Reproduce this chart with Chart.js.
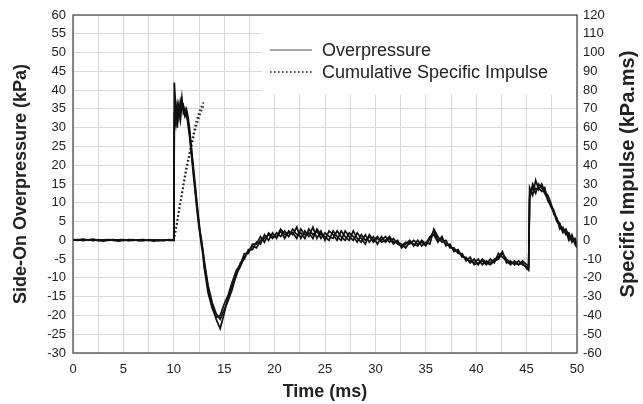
<!DOCTYPE html>
<html lang="en">
<head>
<meta charset="UTF-8">
<title>Side-On Overpressure and Specific Impulse</title>
<script src="https://cdn.jsdelivr.net/npm/chart.js"></script>
<style>
  body { margin: 0; background: #fff; }
</style>
</head>
<body>
<canvas id="blastChart" width="643" height="404"></canvas>
<script>
// time base (ms) shared by the three overpressure records
const time = [
  0, 0.5, 1, 1.5, 2, 2.5, 3, 3.5, 4, 4.5, 5, 5.5, 6, 6.5, 7, 7.5, 8, 8.5, 9, 9.5, 10,
  10.05, 10.2, 10.35, 10.5, 10.65, 10.8, 10.95, 11.1, 11.25, 11.4, 11.55, 11.7, 11.85, 12, 12.15, 12.3, 12.45, 12.6, 12.75, 12.9,
  13, 13.4, 13.8, 14.2, 14.6, 15, 15.4, 15.8, 16.2, 16.6,
  17, 17.4, 17.8, 18.2, 18.6, 19, 19.4, 19.8, 20.2, 20.6,
  21, 21.4, 21.8, 22.2, 22.6, 23, 23.4, 23.8, 24.2, 24.6,
  25, 25.4, 25.8, 26.2, 26.6, 27, 27.4, 27.8, 28.2, 28.6,
  29, 29.4, 29.8, 30.2, 30.6, 31, 31.4, 31.8, 32.2, 32.6,
  33, 33.4, 33.8, 34.2, 34.6, 35, 35.4, 35.8, 36.2, 36.6,
  37, 37.4, 37.8, 38.2, 38.6, 39, 39.4, 39.8, 40.2, 40.6,
  41, 41.4, 41.8, 42.2, 42.6, 43, 43.4, 43.8, 44.2, 44.6,
  45, 45.2,
  45.3, 45.6, 45.9, 46.2, 46.5, 46.8, 47.1, 47.4, 47.7, 48, 48.3, 48.6, 48.9, 49.2, 49.5, 49.8, 50
];

// side-on overpressure (kPa), three tests
const pressureA = [
  0.2, 0.1, 0.3, 0, 0.2, -0.1, 0.1, 0.2, 0, -0.2, 0.1, 0, 0.2, -0.1, 0, 0.1, -0.2, 0, 0.1, 0, 0,
  34, 31, 36, 33, 37, 35, 36, 34, 35, 33, 30, 26, 22, 18, 14, 10, 6, 2.5, 0, -3,
  -5, -12, -16.5, -19.5, -21, -18.5, -16, -13, -9, -7,
  -4.5, -3, -1.5, -2, 0, 0.5, 1.5, 0.5, 2, 1,
  2.5, 1, 3, 1.5, 2, 0.5, 3, 1.5, 2.5, 0.5,
  2, 1, 0.5, 2.5, 1, 0, 2, 1, -0.5, 1.5,
  0, 1, -0.5, 0.5, 0, 1, -0.5, 0.5, -1, -1.5,
  -0.5, -1, 0, -1, -0.5, -1.5, 0.5, 2.5, 0, 0.5,
  -1, -1.5, -2.5, -3, -4, -5, -5.5, -6, -5, -6.5,
  -5.5, -6, -5, -4.5, -3, -6, -5.5, -6.5, -5.5, -6.5,
  -7, -7.5,
  12, 14, 12.5, 15, 14, 12.5, 11, 9, 7.5, 5, 4, 2.5, 3, 1, 0.5, -0.5, -1.5
];
const pressureB = [
  0, 0.2, -0.1, 0.1, 0.3, 0, -0.2, 0.1, 0.2, 0, -0.1, 0.2, 0.1, 0, -0.1, 0.2, 0, 0.1, -0.1, 0.1, 0,
  42, 35, 30, 36, 34, 38, 34, 35, 33, 32, 29, 25, 21, 17, 13, 9, 5.5, 2, -0.5, -3,
  -6, -13, -17.5, -21, -23.5, -19.5, -15, -12, -9.5, -6,
  -5, -2.5, -2.5, -0.5, -1, 1.5, 0, 2, 0.5, 2.5,
  0.5, 2.5, 1.5, 3.5, 0.5, 2.5, 1, 3.5, 0.5, 2.5,
  0, 2.5, 1.5, 0, 2.5, 1, 0, 2.5, 0.5, -0.5,
  1.5, -0.5, 1, -1, 1, -0.5, 0.5, -1, 0, -2,
  -1, 0, -1.5, 0, -1.5, -0.5, -1, 3, 1, -0.5,
  0, -2, -2, -3.5, -3.5, -5.5, -4.5, -6.5, -6, -5.5,
  -6.5, -5, -6, -3.5, -4.5, -5.5, -6.5, -5.5, -6.5, -6,
  -7.5, -8,
  14, 12, 16, 13.5, 15, 13, 12, 10, 7, 6, 3, 3.5, 1.5, 2, -0.5, 0.5, -1
];
const pressureC = [
  0.1, 0, 0.2, 0.1, -0.1, 0.2, 0, 0, 0.1, 0.1, 0.2, -0.1, 0, 0.1, 0.2, -0.1, 0.1, -0.1, 0, 0.2, 0.1,
  30, 36, 33, 35, 32, 36, 35, 33, 34, 31, 28, 24, 20, 16, 12, 8, 4.5, 1.5, -1.5, -4,
  -7, -14, -18, -20.5, -20, -17, -14.5, -11, -8, -6.5,
  -3.5, -3.5, -1, -1, 1, -0.5, 2, 1, 1, 3,
  1.5, 2, 2, 0.5, 3, 1.5, 2, 0.5, 3, 1.5,
  1, 0, 2.5, 1, 0, 2.5, 1, 0, 2, 0.5,
  -1, 1.5, 0, 1, -0.5, 0, 1, -0.5, -0.5, -1,
  -2, -0.5, -1, -1.5, 0, -1, 1, 1.5, -0.5, 1,
  -1.5, -1, -3, -2.5, -4.5, -4.5, -6, -5, -6.5, -5,
  -6, -6.5, -5.5, -5, -3.5, -5, -6, -6, -6.5, -5.5,
  -6.5, -7,
  11, 15, 13.5, 14, 13, 14, 10.5, 9.5, 8, 5.5, 4.5, 2, 2.5, 0, 1.5, -1, -2
];

// cumulative specific impulse (kPa.ms), right axis
const impulseTime = [10, 10.2, 10.4, 10.6, 10.8, 11, 11.2, 11.4, 11.6, 11.8, 12, 12.2, 12.4, 12.6, 12.8, 13];
const impulseA = [0, 6, 13, 19.5, 25, 32, 38, 43, 48, 53, 58, 63, 66.5, 69.5, 72, 74];
const impulseB = [0, 5, 11.5, 18, 24, 30, 36, 41, 46, 51, 56, 60, 64, 67, 70, 72];

const toPoints = (xs, ys) => xs.map((x, i) => ({ x: x, y: ys[i] }));

Chart.defaults.font.family = '"Liberation Sans", Arial, sans-serif';
Chart.defaults.color = '#222';

// white legend box inside the plot, frame round the plot, right-hand title
const plotExtras = {
  id: 'plotExtras',
  beforeDatasetsDraw(chart) {
    const { ctx, chartArea: a } = chart;
    ctx.save();
    ctx.fillStyle = '#fff';
    ctx.fillRect(262, a.top + 1, a.right - 263, 78);
    ctx.restore();
  },
  afterDatasetsDraw(chart) {
    const { ctx, chartArea: a } = chart;
    ctx.save();
    // frame
    ctx.strokeStyle = '#4d4d4d';
    ctx.lineWidth = 1.3;
    ctx.strokeRect(a.left, a.top, a.right - a.left, a.bottom - a.top);

    // legend
    ctx.font = '18px "Liberation Sans", Arial, sans-serif';
    ctx.textBaseline = 'middle';
    ctx.fillStyle = '#222';
    const seen = new Set();
    let row = 0;
    chart.data.datasets.forEach(ds => {
      if (seen.has(ds.label)) return;
      seen.add(ds.label);
      const y = 50 + row * 22;
      ctx.beginPath();
      ctx.setLineDash(ds.borderDash || []);
      ctx.strokeStyle = ds.borderDash ? ds.borderColor : '#555';
      ctx.lineWidth = ds.borderDash ? 1.6 : 1.2;
      ctx.moveTo(270, y);
      ctx.lineTo(312, y);
      ctx.stroke();
      ctx.setLineDash([]);
      ctx.fillText(ds.label, 322, y + 1);
      row++;
    });

    // right axis title reads bottom to top
    ctx.translate(628, 174);
    ctx.rotate(-Math.PI / 2);
    ctx.font = 'bold 20px "Liberation Sans", Arial, sans-serif';
    ctx.textAlign = 'center';
    ctx.fillText('Specific Impulse (kPa.ms)', 0, 0);
    ctx.restore();
  }
};

const traceStyle = { borderColor: '#111', borderWidth: 1.7, pointRadius: 0, fill: false, tension: 0 };
const impulseStyle = { borderColor: '#222', borderWidth: 1.7, borderDash: [1.6, 2.4], pointRadius: 0, fill: false, tension: 0 };

new Chart(document.getElementById('blastChart'), {
  type: 'line',
  data: {
    datasets: [
      Object.assign({ label: 'Overpressure', data: toPoints(time, pressureA), yAxisID: 'y' }, traceStyle),
      Object.assign({ label: 'Overpressure', data: toPoints(time, pressureB), yAxisID: 'y' }, traceStyle),
      Object.assign({ label: 'Overpressure', data: toPoints(time, pressureC), yAxisID: 'y' }, traceStyle),
      Object.assign({ label: 'Cumulative Specific Impulse', data: toPoints(impulseTime, impulseA), yAxisID: 'y2' }, impulseStyle),
      Object.assign({ label: 'Cumulative Specific Impulse', data: toPoints(impulseTime, impulseB), yAxisID: 'y2' }, impulseStyle)
    ]
  },
  plugins: [plotExtras],
  options: {
    responsive: false,
    animation: false,
    layout: { padding: { top: 15, left: 0, right: 0, bottom: 0 } },
    plugins: { legend: { display: false }, tooltip: { enabled: false } },
    scales: {
      x: {
        type: 'linear',
        min: 0,
        max: 50,
        grid: { color: '#d9d9d9', drawTicks: false },
        border: { display: false },
        ticks: {
          stepSize: 2.5,
          autoSkip: false,
          maxRotation: 0,
          padding: 9,
          font: { size: 13 },
          callback: v => (v % 5 === 0 ? v : '')
        },
        title: {
          display: true,
          text: 'Time (ms)',
          font: { size: 18, weight: 'bold' },
          padding: { top: 0, bottom: 1 }
        },
        afterFit(s) { s.height = 51; }
      },
      y: {
        position: 'left',
        min: -30,
        max: 60,
        grid: { color: '#d9d9d9', drawTicks: false },
        border: { display: false },
        ticks: { stepSize: 5, padding: 7, font: { size: 13 } },
        title: {
          display: true,
          text: 'Side-On Overpressure (kPa)',
          font: { size: 18, weight: 'bold' },
          padding: { top: 10, bottom: 0 }
        },
        afterFit(s) { s.width = 73; }
      },
      y2: {
        position: 'right',
        min: -60,
        max: 120,
        grid: { display: false, drawTicks: false },
        border: { display: false },
        ticks: { stepSize: 10, padding: 6, font: { size: 13 } },
        afterFit(s) { s.width = 66; }
      }
    }
  }
});
</script>
</body>
</html>
